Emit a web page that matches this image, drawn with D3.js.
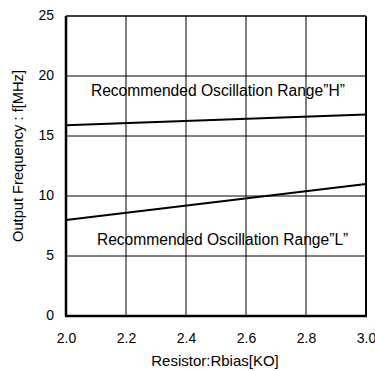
<!DOCTYPE html>
<html><head><meta charset="utf-8">
<script src="https://cdn.jsdelivr.net/npm/d3@7"></script>
<style>body{margin:0;background:#fff}svg{display:block}text{font-family:"Liberation Sans",Arial,sans-serif;fill:#000}</style>
</head><body>
<svg id="c" width="375" height="371"></svg>
<script>
const xTicks = [2.0, 2.2, 2.4, 2.6, 2.8, 3.0];
const yTicks = [0, 5, 10, 15, 20, 25];
const rbias = [2.0, 3.0];
const freqH = [15.9, 16.8];
const freqL = [8.0, 11.0];
const labelH = "Recommended Oscillation Range”H”";
const labelL = "Recommended Oscillation Range”L”";
const xTitle = "Resistor:Rbias[KO]";
const yTitle = "Output Frequency : f[MHz]";

const svg = d3.select("#c");
const L = 66, R = 366, T = 16, B = 316;
const FF = '"Liberation Sans",Arial,sans-serif';
const x = d3.scaleLinear().domain([2.0, 3.0]).range([L, R]);
const y = d3.scaleLinear().domain([0, 25]).range([B, T]);

const g = svg.append("g");
g.selectAll(".vg").data(xTicks.slice(1, -1)).join("line")
  .attr("x1", d => x(d)).attr("x2", d => x(d)).attr("y1", T).attr("y2", B)
  .attr("stroke", "#000").attr("stroke-width", 1);
g.selectAll(".hg").data(yTicks.slice(1, -1)).join("line")
  .attr("y1", d => y(d)).attr("y2", d => y(d)).attr("x1", L).attr("x2", R)
  .attr("stroke", "#000").attr("stroke-width", 1);
g.append("line").attr("x1", L).attr("x2", R).attr("y1", T).attr("y2", T).attr("stroke", "#000").attr("stroke-width", 1.5);
g.append("line").attr("x1", R).attr("x2", R).attr("y1", T).attr("y2", B).attr("stroke", "#000").attr("stroke-width", 2);
g.append("line").attr("x1", L).attr("x2", L).attr("y1", T).attr("y2", B).attr("stroke", "#000").attr("stroke-width", 2.5);
g.append("line").attr("x1", L - 1).attr("x2", R + 1).attr("y1", B).attr("y2", B).attr("stroke", "#000").attr("stroke-width", 2.5);

const xa = svg.append("g").attr("transform", `translate(0,${B})`)
  .call(d3.axisBottom(x).tickValues(xTicks).tickFormat(d3.format(".1f")).tickSize(0).tickPadding(17));
xa.select(".domain").remove();
xa.selectAll("text").style("font-size", "14px").style("font-family", FF).attr("fill", "#000");
const ya = svg.append("g").attr("transform", `translate(${L},0)`)
  .call(d3.axisLeft(y).tickValues(yTicks).tickFormat(d3.format("d")).tickSize(0).tickPadding(12));
ya.select(".domain").remove();
ya.selectAll("text").style("font-size", "14px").style("font-family", FF).attr("fill", "#000").attr("dy", "0.28em");

const line = d3.line().x(d => x(d[0])).y(d => y(d[1]));
g.append("path").datum(rbias.map((r, i) => [r, freqH[i]])).attr("d", line)
  .attr("fill", "none").attr("stroke", "#000").attr("stroke-width", 2);
g.append("path").datum(rbias.map((r, i) => [r, freqL[i]])).attr("d", line)
  .attr("fill", "none").attr("stroke", "#000").attr("stroke-width", 2);

svg.append("text").attr("x", x(2.083)).attr("y", y(18.33)).style("font-size", "15.6px").text(labelH);
svg.append("text").attr("x", x(2.103)).attr("y", y(5.9)).style("font-size", "15.6px").text(labelL);

svg.append("text").attr("x", 215).attr("y", 366).attr("text-anchor", "middle").style("font-size", "15px").text(xTitle);
svg.append("text").attr("transform", `translate(23,156) rotate(-90)`).attr("text-anchor", "middle")
  .attr("textLength", 172).attr("lengthAdjust", "spacingAndGlyphs").style("font-size", "14px").text(yTitle);
</script>
</body></html>
